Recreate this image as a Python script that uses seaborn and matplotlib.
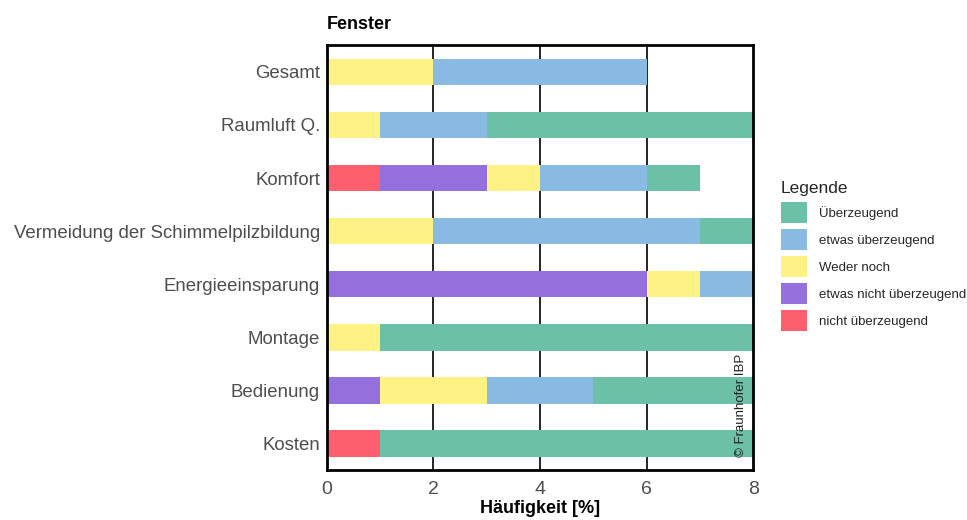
import matplotlib
matplotlib.use("Agg")
import matplotlib.pyplot as plt
from matplotlib.patches import Patch
import numpy as np
import pandas as pd
import seaborn as sns

# Kategorien (von oben nach unten)
categories = ["Gesamt", "Raumluft Q.", "Komfort",
              "Vermeidung der Schimmelpilzbildung", "Energieeinsparung",
              "Montage", "Bedienung", "Kosten"]

# Häufigkeiten je Bewertung (Werte jenseits von 8 abgeschnitten)
nicht_ueberzeugend = [0, 0, 1, 0, 0, 0, 0, 1]
etwas_nicht = [0, 0, 2, 0, 6, 0, 1, 0]
weder_noch = [2, 1, 1, 2, 1, 1, 2, 0]
etwas_ueberzeugend = [4, 2, 2, 5, 2, 0, 2, 0]
ueberzeugend = [0, 6, 1, 2, 0, 8, 4, 8]

series_names = ["nicht überzeugend", "etwas nicht überzeugend", "Weder noch",
                "etwas überzeugend", "Überzeugend"]
series_values = [nicht_ueberzeugend, etwas_nicht, weder_noch,
                 etwas_ueberzeugend, ueberzeugend]
colors = ["#FF5E6E", "#9370DB", "#FFF284", "#89BBE2", "#6CC0A8"]

sns.set_theme(style="white")
plt.rcParams["font.family"] = ["Liberation Sans", "DejaVu Sans"]

fig = plt.figure(figsize=(9.67, 5.2), dpi=100)
ax = fig.add_axes([0.338, 0.096, 0.441, 0.817])

# kumulierte Summen, von der größten (hinten) zur kleinsten (vorne) zeichnen
cum = np.cumsum(np.array(series_values), axis=0)
df = pd.DataFrame({"Kategorie": categories})
for i in range(len(series_names) - 1, -1, -1):
    df["wert"] = cum[i]
    sns.barplot(data=df, x="wert", y="Kategorie", color=colors[i],
                width=0.5, saturation=1, ax=ax, zorder=3, orient="h",
                linewidth=0, edgecolor="none")

ax.set_xlim(0, 8)
ax.set_xticks([0, 2, 4, 6, 8])
for xv in [2, 4, 6]:
    ax.axvline(xv, color="black", linewidth=1.2, zorder=1)

for sp in ax.spines.values():
    sp.set_visible(True)
    sp.set_color("black")
    sp.set_linewidth(2)
    sp.set_zorder(5)

ax.tick_params(axis="y", length=0, labelsize=13.4, colors="#4D4D4D", pad=5)
ax.tick_params(axis="x", length=0, labelsize=14, colors="#4D4D4D", pad=8)
ax.set_ylabel("")
ax.set_xlabel("Häufigkeit [%]", fontsize=13, fontweight="bold",
              color="black", labelpad=1)
ax.set_title("Fenster", loc="left", fontsize=13, fontweight="bold",
             color="black", pad=12)

ax.text(0.985, 0.03, "© Fraunhofer IBP", transform=ax.transAxes,
        rotation=90, ha="right", va="bottom", fontsize=9.5, color="#222222",
        zorder=6)

# Legende (Reihenfolge: Überzeugend oben)
handles = [Patch(facecolor=colors[i], edgecolor="none", label=series_names[i])
           for i in range(len(series_names) - 1, -1, -1)]
fig.legend(handles=handles, title="Legende", loc="upper left",
           bbox_to_anchor=(0.795, 0.675), frameon=False, fontsize=9.5,
           title_fontsize=12.5, handlelength=2.0, handleheight=2.0,
           labelspacing=0.5, handletextpad=0.9, alignment="left")

fig.savefig("out.png", dpi=100)
